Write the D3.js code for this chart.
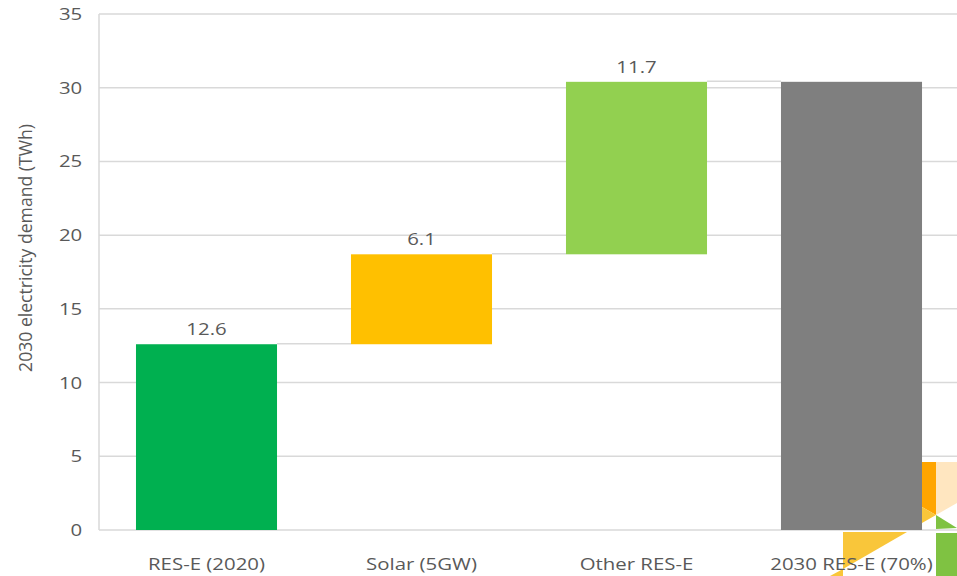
<!DOCTYPE html>
<html>
<head>
<meta charset="utf-8">
<script src="https://cdn.jsdelivr.net/npm/d3@7/dist/d3.min.js"></script>
<style>
  html, body { margin: 0; padding: 0; background: #fff; }
  svg { display: block; font-family: "Open Sans", "Noto Sans", sans-serif; }
</style>
</head>
<body>
<svg id="chart" width="957" height="576"></svg>
<script>
// Waterfall: 2020 renewable electricity plus additions to reach the 2030 target
const categories = ["RES-E (2020)", "Solar (5GW)", "Other RES-E", "2030 RES-E (70%)"];
const values = [12.6, 6.1, 11.7, 30.4];
const isTotal = [false, false, false, true];
const colors = ["#00b050", "#ffc000", "#92d050", "#7f7f7f"];
const yTicks = [0, 5, 10, 15, 20, 25, 30, 35];
const yTitle = "2030 electricity demand (TWh)";

const svg = d3.select("#chart");
const plotLeft = 99, plotRight = 959, plotTop = 14, plotBottom = 530;
const textColor = "#595959";
const stretch = "scale(1.2,1)"; // wide lettering for horizontal labels

const x = d3.scaleBand().domain(categories).range([plotLeft, plotRight])
  .paddingInner(0.344).paddingOuter(0.172);
const y = d3.scaleLinear().domain([0, 35]).range([plotBottom, plotTop]);

// running start/end for each step
let run = 0;
const steps = categories.map((c, i) => {
  let start, end;
  if (isTotal[i]) { start = 0; end = values[i]; run = values[i]; }
  else { start = run; end = run + values[i]; run = end; }
  return { cat: c, start, end, value: values[i], color: colors[i], total: isTotal[i] };
});

// gridlines
svg.append("g").selectAll("line").data(yTicks).join("line")
  .attr("x1", plotLeft).attr("x2", 957)
  .attr("y1", d => y(d)).attr("y2", d => y(d))
  .attr("stroke", "#d9d9d9").attr("stroke-width", 1.5);

// vertical axis line
svg.append("line").attr("x1", plotLeft).attr("x2", plotLeft)
  .attr("y1", y(35)).attr("y2", y(0))
  .attr("stroke", "#d9d9d9").attr("stroke-width", 1.5);

// y axis tick labels
const yAxis = d3.axisLeft(y).tickValues(yTicks).tickSize(0).tickPadding(14);
const yg = svg.append("g").attr("transform", `translate(${plotLeft},0)`).call(yAxis);
yg.select(".domain").remove();
yg.selectAll("text").attr("fill", textColor).attr("font-size", 17)
  .attr("font-family", "'Open Sans', 'Noto Sans', sans-serif")
  .attr("transform", stretch);

// y axis title
svg.append("text")
  .attr("transform", `translate(27,248) rotate(-90)`)
  .attr("text-anchor", "middle").attr("dominant-baseline", "middle")
  .attr("fill", textColor).attr("font-size", 17.6)
  .text(yTitle);

// connectors between consecutive steps
svg.append("g").selectAll("line").data(steps.slice(0, -1)).join("line")
  .attr("x1", (d) => x(d.cat) + x.bandwidth())
  .attr("x2", (d, i) => x(steps[i + 1].cat))
  .attr("y1", d => y(d.end) - 0.5).attr("y2", d => y(d.end) - 0.5)
  .attr("stroke", "#d9d9d9").attr("stroke-width", 1.5);

// bars
svg.append("g").selectAll("rect").data(steps).join("rect")
  .attr("x", d => x(d.cat)).attr("width", x.bandwidth())
  .attr("y", d => y(Math.max(d.start, d.end)))
  .attr("height", d => Math.abs(y(d.start) - y(d.end)))
  .attr("fill", d => d.color);

// value labels above the increments
svg.append("g").selectAll("g").data(steps.filter(d => !d.total)).join("g")
  .attr("transform", d => `translate(${x(d.cat) + x.bandwidth() / 2},${y(d.end) - 9}) ${stretch}`)
  .append("text")
  .attr("text-anchor", "middle").attr("fill", textColor).attr("font-size", 17)
  .text(d => d3.format(".1f")(d.value));

// corner logo fragment
const logo = svg.append("g");
logo.append("polygon").attr("points", "922,462 936,462 936,515 922,507").attr("fill", "#ffa500");
logo.append("polygon").attr("points", "936,462 957,462 957,503 936,515").attr("fill", "#ffe6c0");
logo.append("polygon").attr("points", "922,507 936,515 922,523").attr("fill", "#f9c63a");
logo.append("polygon").attr("points", "936,515 957,528 936,529").attr("fill", "#7fc242");
logo.append("rect").attr("x", 936).attr("y", 533).attr("width", 21).attr("height", 43).attr("fill", "#7fc242");
logo.append("polygon").attr("points", "843,532 907,532 843,569").attr("fill", "#f9c63a");
logo.append("polygon").attr("points", "830,576 843,569 843,576").attr("fill", "#f9c63a");

// category labels
const xAxis = d3.axisBottom(x).tickSize(0).tickPadding(28);
const xg = svg.append("g").attr("transform", `translate(0,${plotBottom})`).call(xAxis);
xg.select(".domain").remove();
xg.selectAll("text").attr("fill", textColor).attr("font-size", 17)
  .attr("font-family", "'Open Sans', 'Noto Sans', sans-serif")
  .attr("transform", stretch);
</script>
</body>
</html>
